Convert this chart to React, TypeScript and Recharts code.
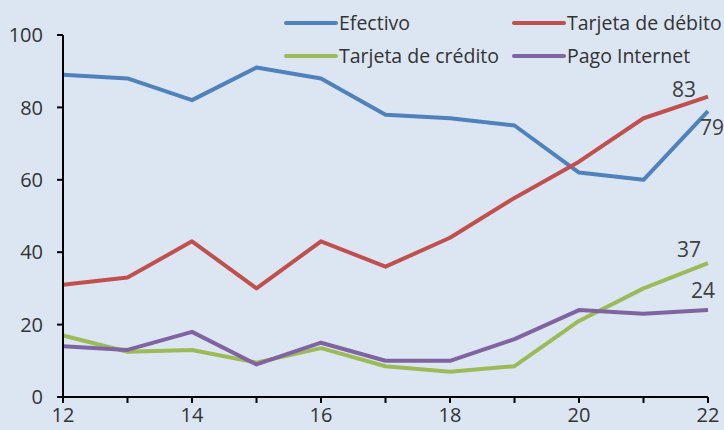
import React from "react";
import { LineChart, Line, XAxis, YAxis, LabelList } from "recharts";

const years = [12, 13, 14, 15, 16, 17, 18, 19, 20, 21, 22];
const efectivo = [89, 88, 82, 91, 88, 78, 77, 75, 62, 60, 79];
const debito = [31, 33, 43, 30, 43, 36, 44, 55, 65, 77, 83];
const credito = [17, 12.5, 13, 9.5, 13.5, 8.5, 7, 8.5, 21, 30, 37];
const internet = [14, 13, 18, 9, 15, 10, 10, 16, 24, 23, 24];
const yTicks = [0, 20, 40, 60, 80, 100];
const xTicks = years;

const seriesNames = ["Efectivo", "Tarjeta de débito", "Tarjeta de crédito", "Pago Internet"];
const seriesKeys = ["efectivo", "debito", "credito", "internet"];
const colors = ["#4f81bd", "#c0504d", "#9bbb59", "#8064a2"];
const labelOffsets: Record<string, [number, number]> = {
  efectivo: [4, 24],
  debito: [-24, 0],
  credito: [-19, -6],
  internet: [-5, -12],
};

const data = years.map((y, i) => ({
  year: y,
  efectivo: efectivo[i],
  debito: debito[i],
  credito: credito[i],
  internet: internet[i],
}));

const FONT = "'Open Sans', 'Noto Sans', sans-serif";
const TEXT = "#333333";

const LegendBox = () => {
  const pos = [
    [286, 23],
    [514, 23],
    [286, 56],
    [514, 56],
  ];
  return (
    <svg style={{ position: "absolute", left: 0, top: 0 }} width={724} height={80}>
      {seriesNames.map((n, i) => (
        <g key={n}>
          <line x1={pos[i][0]} y1={pos[i][1]} x2={pos[i][0] + 50} y2={pos[i][1]} stroke={colors[i]} strokeWidth={4} strokeLinecap="round" />
          <text x={pos[i][0] + 53} y={pos[i][1] + 6.5} fontSize={19.5} fill={TEXT} fontFamily={FONT}>
            {n}
          </text>
        </g>
      ))}
    </svg>
  );
};

const makeEndLabel = (key: string) => (props: any) => {
  const { x, y, value, index } = props;
  if (index !== years.length - 1) return null;
  const [dx, dy] = labelOffsets[key];
  return (
    <text x={x + dx} y={y + dy} fontSize={21} fill="#404040" fontFamily={FONT} textAnchor="middle">
      {value}
    </text>
  );
};

export default function App() {
  return (
    <div style={{ position: "fixed", left: 0, top: 0, width: 724, height: 430, background: "#dce6f2" }}>
      <LineChart width={724} height={430} data={data} margin={{ top: 35, right: 16, bottom: 3, left: 0 }}>
        <XAxis
          dataKey="year"
          type="number"
          domain={[12, 22]}
          ticks={xTicks}
          interval={0}
          tickFormatter={(v: number) => (v % 2 === 0 ? String(v) : "")}
          stroke="#000"
          strokeWidth={2}
          tickSize={6}
          height={30}
          tick={{ fontSize: 20, fill: TEXT, fontFamily: FONT, dy: 3 }}
        />
        <YAxis
          type="number"
          domain={[0, 100]}
          ticks={yTicks}
          width={63}
          stroke="#000"
          strokeWidth={2}
          tickSize={6}
          tick={{ fontSize: 20, fill: TEXT, fontFamily: FONT, dx: -12 }}
        />
        {seriesKeys.map((k, i) => (
          <Line
            key={k}
            dataKey={k}
            name={seriesNames[i]}
            stroke={colors[i]}
            strokeWidth={4}
            dot={false}
            strokeLinejoin="round"
            isAnimationActive={false}
          >
            <LabelList dataKey={k} content={makeEndLabel(k)} />
          </Line>
        ))}
      </LineChart>
      <LegendBox />
    </div>
  );
}
